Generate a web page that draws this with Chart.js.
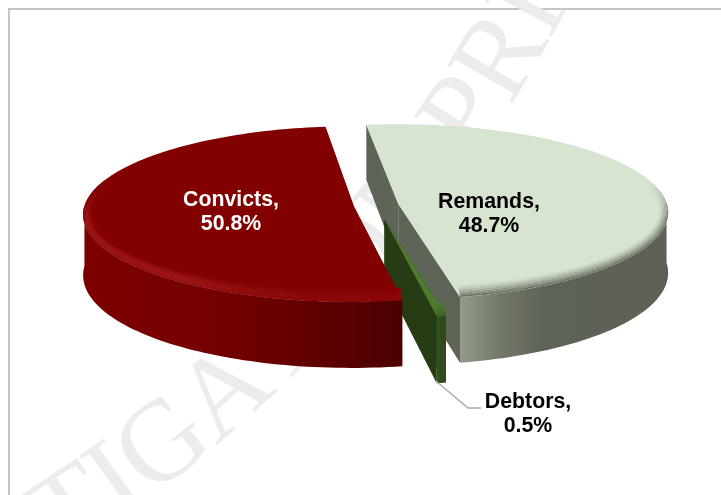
<!DOCTYPE html>
<html>
<head>
<meta charset="utf-8">
<style>
  html, body { margin: 0; padding: 0; background: #fff; overflow: hidden; }
  #frame { position: absolute; left: 8px; top: 8px; width: 800px; height: 600px; border: 2px solid #c4c4c4; }
  canvas { position: absolute; left: 0; top: 0; }
</style>
<script src="https://cdn.jsdelivr.net/npm/chart.js@4/dist/chart.umd.min.js"></script>
</head>
<body>
<div id="frame"></div>
<canvas id="chart" width="721" height="495"></canvas>
<script>
// clockwise from the start angle, drawn back to front in this order
const categories = ["Remands", "Debtors", "Convicts"];
const shares = [48.7, 0.5, 50.8];
const topColors = ["#d7e4d0", "#4f7b2f", "#820000"];
const explode = [67, 132, 67];

// view of the tilted pie
const centerX = 376, centerY = 205, radiusX = 269, radiusY = 87;
const perspective = 0.09, depth = 60;

const wallStops = {
  Remands: [[460, "#939a8c"], [500, "#737969"], [545, "#5e6358"], [667, "#5c6055"]],
  Debtors: [[428, "#3c5c23"], [442, "#2f4b1c"]],
  Convicts: [[85, "#7c0000"], [200, "#760000"], [300, "#640000"], [375, "#510000"], [405, "#4c0000"]],
};
const cutColors = { Remands: "#5f6459", Debtors: "#263c14", Convicts: "#520000" };
const rimColors = { Remands: [94, 99, 88], Debtors: [60, 92, 35], Convicts: [160, 26, 26] };

function project(u, v, z) {
  const w = 1 - perspective * v;
  return [centerX + radiusX * u / w, centerY + (radiusY * v + z) / w];
}

function poly(ctx, pts, fill) {
  ctx.beginPath();
  pts.forEach((p, i) => (i ? ctx.lineTo(p[0], p[1]) : ctx.moveTo(p[0], p[1])));
  ctx.closePath();
  ctx.fillStyle = fill;
  ctx.fill();
}

function hexRgb(hex) {
  return [1, 3, 5].map((i) => parseInt(hex.substr(i, 2), 16));
}

function drawSlice(ctx, chart, el, name, color) {
  const R = el.outerRadius;
  const half = (el.startAngle + el.endAngle) / 2;
  const off = (el.options.offset || 0) / 4 / R;
  const cu = (el.x - (chart.chartArea.left + chart.chartArea.right) / 2) / R + Math.cos(half) * off;
  const cv = (el.y - (chart.chartArea.top + chart.chartArea.bottom) / 2) / R + Math.sin(half) * off;

  const steps = Math.max(4, Math.round((el.endAngle - el.startAngle) * 40));
  const angles = [];
  for (let i = 0; i <= steps; i++) angles.push(el.startAngle + ((el.endAngle - el.startAngle) * i) / steps);
  const rimAt = (a, z) => project(cu + Math.cos(a), cv + Math.sin(a), z);
  const apex = (z) => project(cu, cv, z);

  // the two cut faces
  [el.startAngle, el.endAngle].forEach((a) => {
    poly(ctx, [apex(0), rimAt(a, 0), rimAt(a, depth), apex(depth)], cutColors[name]);
  });

  // outer wall, only the part that faces the viewer
  const stops = wallStops[name];
  const x0 = stops[0][0], x1 = stops[stops.length - 1][0];
  const wall = ctx.createLinearGradient(x0, 0, x1, 0);
  stops.forEach((s) => wall.addColorStop((s[0] - x0) / (x1 - x0), s[1]));
  const front = angles.filter((a) => Math.sin(a) > -0.02);
  poly(ctx, front.map((a) => rimAt(a, 0)).concat(front.slice().reverse().map((a) => rimAt(a, depth))), wall);

  // top face
  poly(ctx, [apex(0)].concat(angles.map((a) => rimAt(a, 0))), color);

  // soft bevel on the edge facing the viewer
  const base = hexRgb(color), rim = rimColors[name];
  const bands = 8;
  const inner = (a, t) => {
    const p = rimAt(a, 0);
    return [p[0] - Math.cos(a) * 10 * t, p[1] - Math.sin(a) * 13 * t];
  };
  for (let b = 0; b < bands; b++) {
    const t0 = 1 - b / bands, t1 = 1 - (b + 1) / bands;
    const pos = (b + 0.5) / bands;
    const mix = name === "Convicts" ? Math.sin(Math.pow(pos, 1.3) * Math.PI * 0.8) : Math.pow(pos, 1.4);
    for (let i = 0; i < steps; i++) {
      const a = angles[i], c = angles[i + 1];
      let facing = Math.min(1, Math.max(0, (Math.sin((a + c) / 2) + 0.25) / 0.45));
      if (facing <= 0) continue;
      // the red highlight dies out towards the cut edge
      if (name === "Convicts") facing *= 0.35 + 0.65 * Math.min(1, Math.max(0, ((a + c) / 2 - Math.PI * 0.55) / 0.5));
      const m = mix * facing;
      const rgb = base.map((ch, k) => Math.round(ch + (rim[k] - ch) * m));
      poly(ctx, [inner(a, t0), inner(c, t0), inner(c, t1), inner(a, t1)], "rgb(" + rgb.join(",") + ")");
    }
  }
}

// the watermark bends slightly as it climbs
function drawWatermark(ctx, text) {
  let x = -32, y = 613, deg = 28;
  ctx.save();
  ctx.font = "115px 'Liberation Serif'";
  ctx.fillStyle = "#ececec";
  ctx.textAlign = "center";
  ctx.textBaseline = "alphabetic";
  for (const ch of text) {
    const adv = ctx.measureText(ch).width;
    const rad = ((deg + 0.02 * adv) * Math.PI) / 180;
    ctx.save();
    ctx.translate(x + (Math.cos(rad) * adv) / 2, y - (Math.sin(rad) * adv) / 2);
    ctx.rotate(-rad);
    ctx.fillText(ch, 0, 0);
    ctx.restore();
    x += Math.cos(rad) * adv;
    y -= Math.sin(rad) * adv;
    deg += 0.04 * adv;
  }
  ctx.restore();
}

const tiltedPie = {
  id: "tiltedPie",
  beforeDatasetsDraw(chart) {
    drawWatermark(chart.ctx, "LITIGATION PRIVILEGED");
  },
  beforeDatasetDraw(chart, args) {
    const ctx = chart.ctx;
    ctx.save();
    args.meta.data.forEach((el, i) => drawSlice(ctx, chart, el, categories[i], el.options.backgroundColor));
    ctx.restore();
    return false;
  },
  afterDraw(chart) {
    const ctx = chart.ctx;
    ctx.save();
    // leader line for the smallest slice
    ctx.strokeStyle = "#a8a8a8";
    ctx.lineWidth = 1.4;
    ctx.beginPath();
    ctx.moveTo(436, 381);
    ctx.lineTo(468, 408);
    ctx.lineTo(481, 408);
    ctx.stroke();

    const spots = { Remands: [489, 202, "#000"], Debtors: [528, 402, "#000"], Convicts: [231, 200, "#fff"] };
    ctx.font = "bold 21.3px 'Liberation Sans'";
    ctx.textAlign = "center";
    ctx.textBaseline = "middle";
    categories.forEach((name, i) => {
      const s = spots[name];
      ctx.fillStyle = s[2];
      ctx.fillText(name + ",", s[0], s[1]);
      ctx.fillText(shares[i].toFixed(1) + "%", s[0], s[1] + 24.5);
    });
    ctx.restore();
  },
};

new Chart(document.getElementById("chart").getContext("2d"), {
  type: "pie",
  data: {
    labels: categories,
    datasets: [{ data: shares, backgroundColor: topColors, offset: explode, borderWidth: 0 }],
  },
  options: {
    responsive: false,
    animation: false,
    rotation: -7,
    radius: 200,
    layout: { padding: 0 },
    plugins: { legend: { display: false }, tooltip: { enabled: false } },
  },
  plugins: [tiltedPie],
});
</script>
</body>
</html>
